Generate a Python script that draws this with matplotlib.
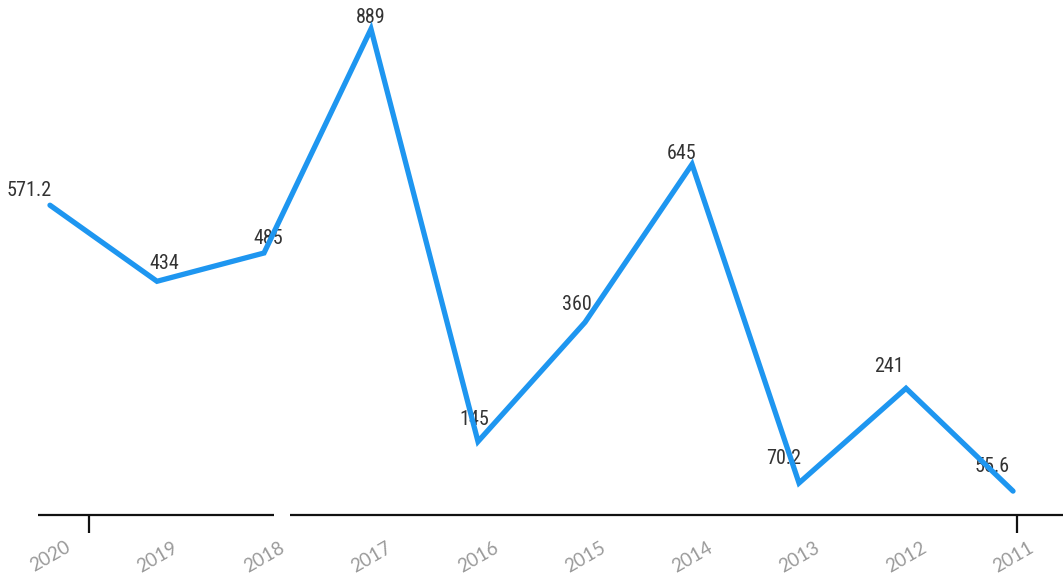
import matplotlib
matplotlib.use("Agg")
import matplotlib.pyplot as plt
import matplotlib.transforms as mtransforms

years = ["2020", "2019", "2018", "2017", "2016", "2015", "2014", "2013", "2012", "2011"]
values = [571.2, 434, 485, 889, 145, 360, 645, 70.2, 241, 55.6]
value_labels = ["571.2", "434", "485", "889", "145", "360", "645", "70.2", "241", "55.6"]
# label offsets in pixels (dx, dy) - styling only
label_dx = [-21, 7, 4, 0, -4, -8, -10, -15, -17, -21]
label_dy = [15, 18, 15, 11, 22, 18, 11, 25, 22, 25]

W, H = 1063, 578
fig = plt.figure(figsize=(W / 100, H / 100), dpi=100)
ax = fig.add_axes([0, (H - 515) / H, 1, 515 / H])

x = list(range(len(years)))
ax.plot(x, values, color="#1E96F0", lw=3.8, solid_joinstyle="miter", solid_capstyle="round", zorder=3)

ax.set_xlim(-0.467, 9.467)
ax.set_ylim(12.5, 941.3)

num_font = ["Roboto Condensed", "Liberation Sans Narrow", "Roboto", "DejaVu Sans"]
for xi, v, lab, dx, dy in zip(x, values, value_labels, label_dx, label_dy):
    ax.annotate(lab, (xi, v), xytext=(dx * 0.72, dy * 0.72), textcoords="offset points",
                ha="center", va="center", fontsize=14.5, color="#333333",
                family=num_font, zorder=2)

for s in ax.spines.values():
    s.set_visible(False)
ax.set_yticks([])

# broken baseline
trans = mtransforms.blended_transform_factory(ax.transData, ax.transAxes)
for x0, x1 in [(-0.112, 2.093), (2.243, 9.467)]:
    ax.plot([x0, x1], [0, 0], transform=trans, color="#111111", lw=1.6, clip_on=False, solid_capstyle="butt")

# tick marks
ax.set_xticks([0.364, 9.037])
ax.set_xticklabels(["", ""])
ax.tick_params(axis="x", which="major", length=13, width=1.6, color="#111111", direction="out")
ax.set_xticks(x, minor=True)
ax.set_xticklabels(years, minor=True, rotation=30, ha="center", fontsize=13.5,
                   color="#9a9a9a", family=["Lato", "Open Sans", "DejaVu Sans"], fontweight="normal")
ax.tick_params(axis="x", which="minor", length=0, pad=17)

fig.savefig("out.png", dpi=100)
